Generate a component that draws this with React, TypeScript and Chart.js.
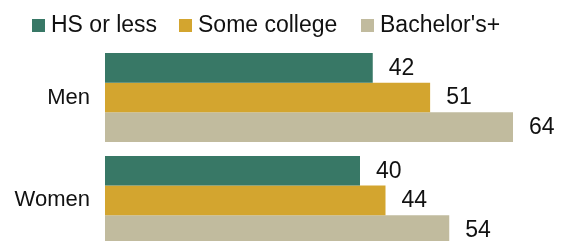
import React, { useEffect, useRef } from "react";
import { Chart, registerables } from "chart.js";

Chart.register(...registerables);

const categories = ["Men", "Women"];
const seriesNames = ["HS or less", "Some college", "Bachelor's+"];
const hsOrLess = [42, 40];
const someCollege = [51, 44];
const bachelors = [64, 54];
const colors = ["#387866", "#D3A52F", "#C1BB9E"];

const FONT = "'Liberation Sans', Arial, sans-serif";
const LEGEND_LEFTS = [32, 179, 361];

const valueLabels = {
  id: "valueLabels",
  afterDatasetsDraw(chart: any) {
    const ctx = chart.ctx;
    ctx.save();
    ctx.font = `23px ${FONT}`;
    ctx.fillStyle = "#111";
    ctx.textAlign = "left";
    ctx.textBaseline = "middle";
    chart.data.datasets.forEach((ds: any, i: number) => {
      const meta = chart.getDatasetMeta(i);
      meta.data.forEach((bar: any, j: number) => {
        ctx.fillText(String(ds.data[j]), bar.x + 16, bar.y + 0.5);
      });
    });
    ctx.restore();
  },
};

export default function App() {
  const ref = useRef<HTMLCanvasElement>(null);
  useEffect(() => {
    document.body.style.margin = "0";
    const chart = new Chart(ref.current!, {
      type: "bar",
      data: {
        labels: categories,
        datasets: [
          { label: seriesNames[0], data: hsOrLess, backgroundColor: colors[0] },
          { label: seriesNames[1], data: someCollege, backgroundColor: colors[1] },
          { label: seriesNames[2], data: bachelors, backgroundColor: colors[2] },
        ],
      },
      options: {
        indexAxis: "y",
        responsive: true,
        animation: false,
        maintainAspectRatio: false,
        devicePixelRatio: 1,
        datasets: { bar: { categoryPercentage: 0.864, barPercentage: 1 } },
        layout: { padding: { top: 46, bottom: 8, left: 0, right: 0 } },
        plugins: { legend: { display: false }, tooltip: { enabled: false } },
        scales: {
          x: { display: false, min: 0, max: 72 },
          y: {
            grid: { display: false, drawTicks: false },
            border: { display: false },
            ticks: { padding: 15, color: "#111", font: { family: FONT, size: 22 } },
            afterFit(scale: any) {
              scale.width = 105;
            },
          },
        },
      },
      plugins: [valueLabels],
    });
    return () => chart.destroy();
  }, []);

  return (
    <div
      style={{
        position: "fixed",
        left: 0,
        top: 0,
        width: 564,
        height: 241,
        overflow: "hidden",
        background: "#fff",
      }}
    >
      {seriesNames.map((n, i) => (
        <div
          key={n}
          style={{
            position: "absolute",
            left: LEGEND_LEFTS[i],
            top: 13,
            zIndex: 2,
            display: "flex",
            alignItems: "center",
            fontFamily: FONT,
            fontSize: 23,
            lineHeight: "22px",
            color: "#111",
            whiteSpace: "nowrap",
          }}
        >
          <span
            style={{
              display: "inline-block",
              width: 13,
              height: 13,
              background: colors[i],
              marginRight: 6,
              position: "relative",
              top: 1,
            }}
          />
          <span>{n}</span>
        </div>
      ))}
      <div style={{ position: "absolute", left: 0, top: 0, width: 564, height: 280 }}>
        <canvas ref={ref} />
      </div>
    </div>
  );
}
